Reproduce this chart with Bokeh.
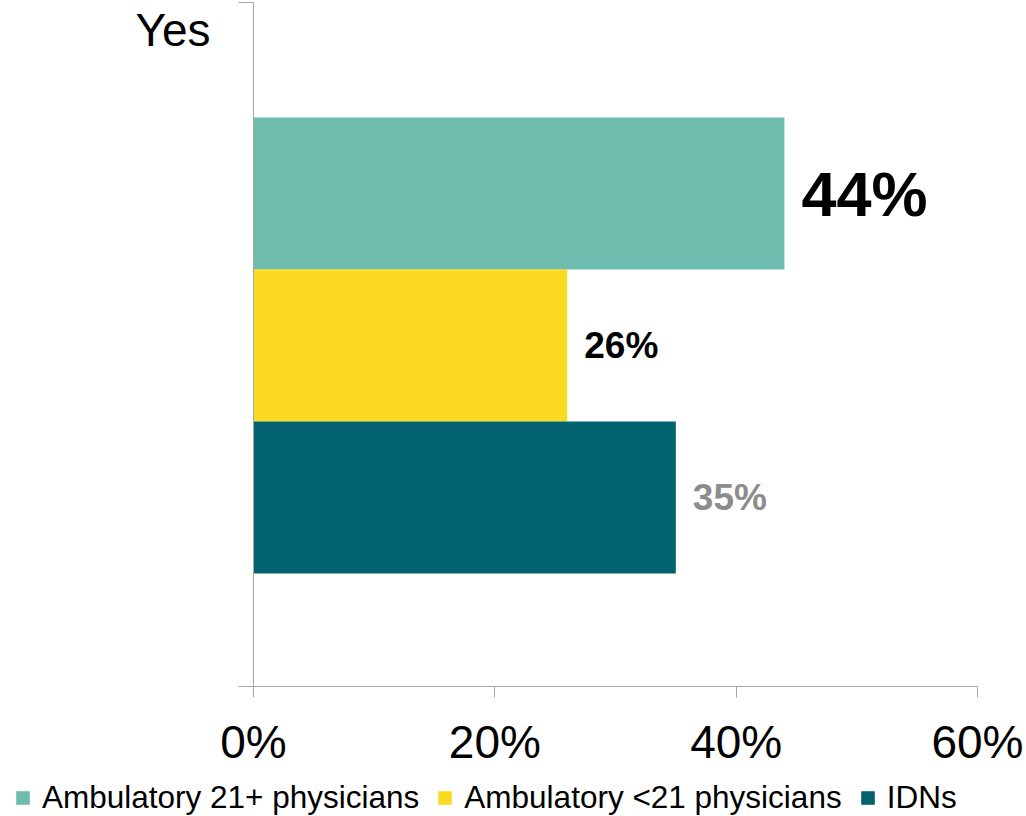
from bokeh.plotting import figure
from bokeh.models import Range1d, FixedTicker, Legend, LegendItem
from bokeh.core.properties import value
from bokeh.embed import file_html
from bokeh.resources import INLINE

# ---- data ----
categories = ["Yes"]
series = ["Ambulatory 21+ physicians", "Ambulatory <21 physicians", "IDNs"]
values = [44, 26, 35]
x_ticks = [0, 20, 40, 60]
x_tick_labels = ["0%", "20%", "40%", "60%"]

# ---- styles ----
colors = ["#6DBCAD", "#FCD923", "#02626F"]
label_colors = ["#000000", "#000000", "#8C8C8C"]
label_sizes = ["63px", "37px", "37px"]
FONT = "Liberation Sans"
AXIS_COLOR = "#A6A6A6"

# layout in data units (one bar = 1 unit tall)
y_top = 684 / 152.0
bar_base = 0.743
yes_y = 4.322

p = figure(width=1026, height=770,
           x_range=Range1d(0, 60), y_range=Range1d(0, y_top),
           output_backend="svg", toolbar_location=None,
           min_border_left=253, min_border_right=49,
           min_border_top=2, min_border_bottom=84)
p.outline_line_color = None
p.xgrid.grid_line_color = None
p.ygrid.grid_line_color = None

n = len(series)
for i, (s, v) in enumerate(zip(series, values)):
    yc = bar_base + 0.5 + (n - 1 - i)
    p.hbar(y=[yc], left=[0], right=[v], height=1.0,
           fill_color=colors[i], line_color=None)
    p.text(x=[v], y=[yc], text=[f"{v}%"], x_offset=17,
           text_baseline="middle", text_align="left",
           text_font=value(FONT), text_font_style="bold",
           text_font_size=label_sizes[i], text_color=label_colors[i])

# x axis
xa = p.xaxis[0]
xa.ticker = FixedTicker(ticks=x_ticks)
xa.major_label_overrides = dict(zip(x_ticks, x_tick_labels))
xa.major_tick_out = 11
xa.major_tick_in = 0
xa.minor_tick_line_color = None
xa.major_label_standoff = 18
xa.major_label_text_font = FONT
xa.major_label_text_font_size = "46px"
xa.major_label_text_color = "#000000"
xa.axis_line_color = AXIS_COLOR
xa.major_tick_line_color = AXIS_COLOR

# y axis (single category label "Yes")
ya = p.yaxis[0]
ya.ticker = FixedTicker(ticks=[yes_y], minor_ticks=[0, y_top])
ya.major_label_overrides = {yes_y: categories[0]}
ya.major_tick_line_color = None
ya.major_tick_out = 0
ya.major_tick_in = 0
ya.minor_tick_out = 15
ya.minor_tick_in = 0
ya.minor_tick_line_color = AXIS_COLOR
ya.major_label_standoff = 28
ya.major_label_text_font = FONT
ya.major_label_text_font_size = "46px"
ya.major_label_text_color = "#000000"
ya.axis_line_color = AXIS_COLOR

# legend strip below the chart (separate root so its frame spans the full width)
pl = figure(width=1026, height=46, x_range=Range1d(0, 1), y_range=Range1d(0, 1),
            output_backend="svg", toolbar_location=None,
            x_axis_location=None, y_axis_location=None,
            min_border=0)
pl.outline_line_color = None
pl.xgrid.grid_line_color = None
pl.ygrid.grid_line_color = None
swatches = []
for i, s in enumerate(series):
    # swatch renderers: the series' own values, drawn outside the visible range
    swatches.append(pl.hbar(y=[-10], left=[0], right=[values[i]], height=1.0,
                            fill_color=colors[i], line_color=None))
legend = Legend(items=[LegendItem(label=s, renderers=[r]) for s, r in zip(series, swatches)],
                orientation="horizontal", location=(14, 0),
                label_text_font=FONT, label_text_font_size="31.5px",
                label_text_color="#000000",
                glyph_width=17, glyph_height=17, label_standoff=11, spacing=17,
                padding=0, margin=0, border_line_color=None,
                background_fill_alpha=0)
pl.add_layout(legend, "center")

open("out.html", "w").write(file_html([p, pl], INLINE))
